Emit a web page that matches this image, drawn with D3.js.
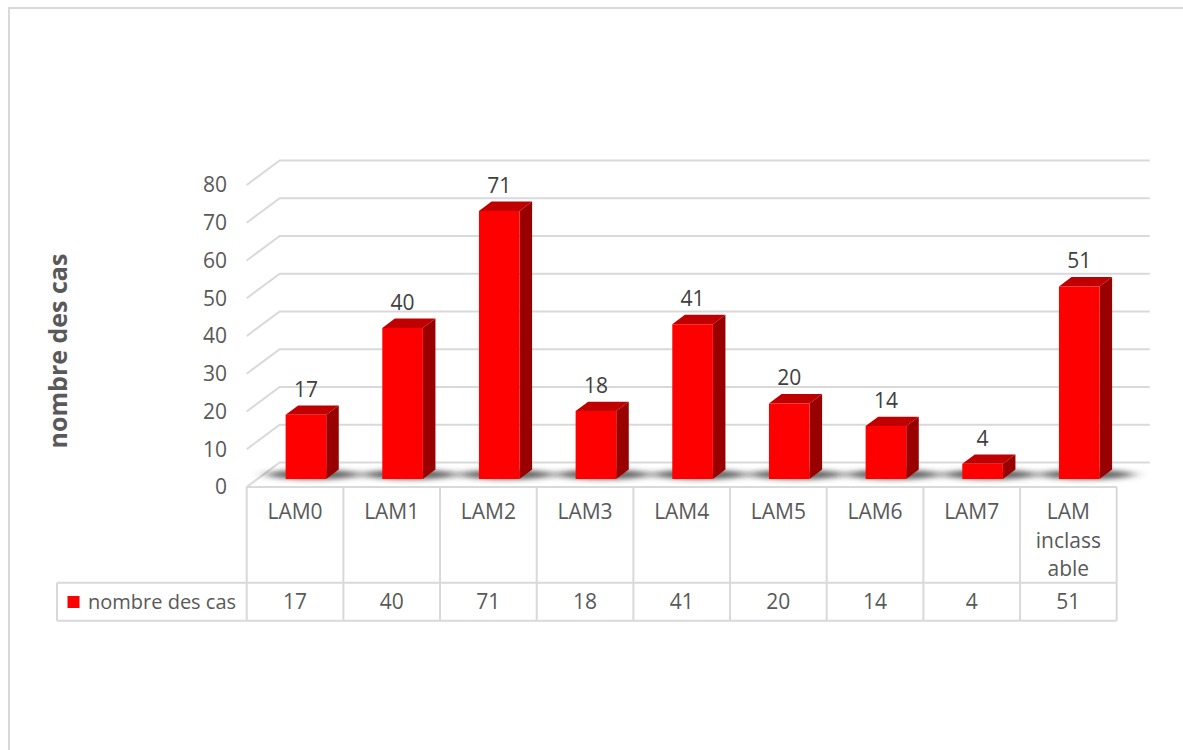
<!DOCTYPE html>
<html>
<head>
<meta charset="utf-8">
<script src="https://cdn.jsdelivr.net/npm/d3@7"></script>
<style>
  html, body { margin: 0; padding: 0; background: #fff; }
  svg { display: block; }
  text { font-family: "Open Sans", "DejaVu Sans", sans-serif; }
</style>
</head>
<body>
<svg id="chart" width="1183" height="750"></svg>
<script>
// ---- data ----
const categories = ["LAM0", "LAM1", "LAM2", "LAM3", "LAM4", "LAM5", "LAM6", "LAM7", "LAM inclassable"];
const categoryLines = [["LAM0"], ["LAM1"], ["LAM2"], ["LAM3"], ["LAM4"], ["LAM5"], ["LAM6"], ["LAM7"], ["LAM", "inclass", "able"]];
const values = [17, 40, 71, 18, 41, 20, 14, 4, 51];
const yTicks = [0, 10, 20, 30, 40, 50, 60, 70, 80];
const seriesName = "nombre des cas";
const yTitle = "nombre des cas";

// ---- layout ----
const svg = d3.select("#chart");
const W = 1183, H = 750;
const X0 = 246.7, X1 = 1116.7;
const DX = 33, DY = -24.5;            // depth projection
const gridColor = "#d9d9d9";
const textColor = "#595959";

const x = d3.scaleBand().domain(categories).range([X0, X1]);
const y = d3.scaleLinear().domain([0, 80]).range([487, 185]);
const proj = (px, v, d) => [px + DX * d, y(v) + DY * d];

// outer border
svg.append("rect").attr("x", 9).attr("y", 8).attr("width", W + 20).attr("height", H + 20)
  .attr("fill", "#fff").attr("stroke", gridColor).attr("stroke-width", 2);

// defs: shadow blur
const defs = svg.append("defs");
defs.append("filter").attr("id", "blur").attr("x", "-60%").attr("y", "-300%").attr("width", "220%").attr("height", "700%")
  .append("feGaussianBlur").attr("stdDeviation", "8 2.5");

// gridlines (left wall + back wall)
const grid = svg.append("g");
yTicks.forEach(t => {
  const a = proj(X0, t, 0), b = proj(X0, t, 1), c = proj(X1, t, 1);
  grid.append("polyline")
    .attr("points", [a, b, c].map(p => p.join(",")).join(" "))
    .attr("fill", "none").attr("stroke", gridColor).attr("stroke-width", 2);
});

// y tick labels
svg.append("g").selectAll("text").data(yTicks).join("text")
  .attr("x", 227).attr("y", d => y(d)).attr("dy", "0.35em")
  .attr("text-anchor", "end").attr("font-size", 21).attr("fill", textColor)
  .text(d => d);

// y title
svg.append("text")
  .attr("transform", "translate(67,351) rotate(-90)")
  .attr("text-anchor", "middle").attr("font-size", 25).attr("font-weight", "bold")
  .attr("fill", textColor).text(yTitle);

// bars
const bw = x.bandwidth() * 0.42;
const dF = 0.33, dB = 0.71;
const barData = categories.map((c, i) => ({ c, v: values[i], cx: x(c) + x.bandwidth() / 2 }));

// shadows
svg.append("g").selectAll("ellipse").data(barData).join("ellipse")
  .attr("cx", d => d.cx + DX * 0.55)
  .attr("cy", y(0) + DY * 0.55 + 1)
  .attr("rx", bw * 1.15).attr("ry", 5)
  .attr("fill", "#404040").attr("opacity", 0.8)
  .attr("filter", "url(#blur)");

const bars = svg.append("g").selectAll("g").data(barData).join("g");
const pts = arr => arr.map(p => p.join(",")).join(" ");
// top
bars.append("polygon").attr("fill", "#c00000").attr("points", d => {
  const l = d.cx - bw / 2, r = d.cx + bw / 2;
  return pts([proj(l, d.v, dF), proj(r, d.v, dF), proj(r, d.v, dB), proj(l, d.v, dB)]);
});
// side
bars.append("polygon").attr("fill", "#990000").attr("points", d => {
  const r = d.cx + bw / 2;
  return pts([proj(r, 0, dF), proj(r, d.v, dF), proj(r, d.v, dB), proj(r, 0, dB)]);
});
// front
bars.append("polygon").attr("fill", "#ff0000").attr("points", d => {
  const l = d.cx - bw / 2, r = d.cx + bw / 2;
  return pts([proj(l, 0, dF), proj(r, 0, dF), proj(r, d.v, dF), proj(l, d.v, dF)]);
});

// data labels
svg.append("g").selectAll("text").data(barData).join("text")
  .attr("x", d => proj(d.cx, d.v, dF)[0])
  .attr("y", d => proj(d.cx, d.v, dF)[1] - 18)
  .attr("text-anchor", "middle").attr("font-size", 21).attr("fill", "#404040")
  .text(d => d.v);

// data table
const tY0 = 487, tY1 = 582.7, tY2 = 620.7, legX = 57;
const tbl = svg.append("g").attr("stroke", gridColor).attr("stroke-width", 2);
tbl.append("line").attr("x1", X0).attr("x2", X1).attr("y1", tY0).attr("y2", tY0);
tbl.append("line").attr("x1", legX).attr("x2", X1).attr("y1", tY1).attr("y2", tY1);
tbl.append("line").attr("x1", legX).attr("x2", X1).attr("y1", tY2).attr("y2", tY2);
tbl.append("line").attr("x1", legX).attr("x2", legX).attr("y1", tY1).attr("y2", tY2);
const bounds = categories.map(c => x(c)).concat([X1]);
tbl.selectAll("line.v").data(bounds).join("line").attr("class", "v")
  .attr("x1", d => d).attr("x2", d => d).attr("y1", tY0).attr("y2", tY2);

// header labels
const hdr = svg.append("g").selectAll("text").data(barData).join("text")
  .attr("text-anchor", "middle").attr("font-size", 21).attr("fill", textColor);
hdr.each(function(d, i) {
  d3.select(this).selectAll("tspan").data(categoryLines[i]).join("tspan")
    .attr("x", d.cx).attr("y", (t, j) => 512 + j * 28.3).attr("dy", "0.35em").text(t => t);
});

// values row
svg.append("g").selectAll("text").data(barData).join("text")
  .attr("x", d => d.cx).attr("y", 602).attr("dy", "0.35em")
  .attr("text-anchor", "middle").attr("font-size", 21).attr("fill", textColor)
  .text(d => d.v);

// legend key
svg.append("rect").attr("x", 67.5).attr("y", 596).attr("width", 12).attr("height", 12).attr("fill", "#ff0000");
svg.append("text").attr("x", 88).attr("y", 602).attr("dy", "0.35em")
  .attr("font-size", 20).attr("fill", textColor).text(seriesName);
</script>
</body>
</html>
